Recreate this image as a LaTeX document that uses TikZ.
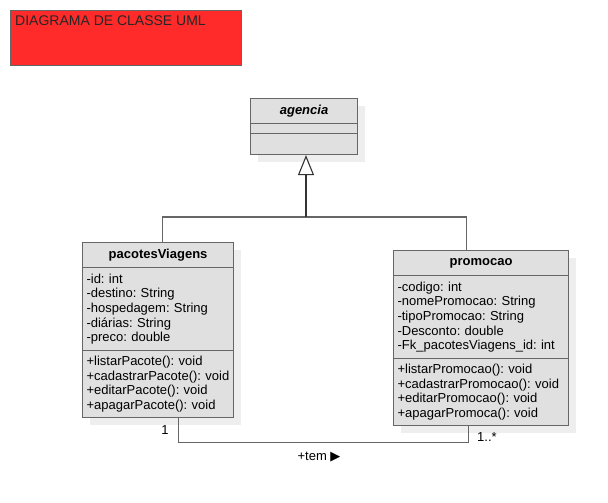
\documentclass[tikz,border=0pt]{standalone}
\usepackage{fontspec}
\setmainfont{Liberation Sans}
\newfontfamily\symfont{DejaVu Sans}
\usetikzlibrary{arrows.meta, shadows}

\definecolor{umlfill}{RGB}{224,224,224}
\definecolor{umlline}{RGB}{102,102,102}
\definecolor{umlshadow}{RGB}{238,238,238}
\definecolor{titlered}{RGB}{255,42,42}

\tikzset{
    part/.style={draw=umlline, line width=1.1pt, fill=umlfill, rectangle,
                 inner sep=0pt, anchor=north west,
                 drop shadow={shadow xshift=7pt, shadow yshift=-7pt,
                              fill=umlshadow, opacity=1}},
    members/.style={part, align=left, inner xsep=4pt,
                    font=\fontsize{13}{14.7}\selectfont\frenchspacing},
    classname/.style={part, font=\fontsize{13}{15}\selectfont\bfseries},
    edge/.style={draw=umlline, line width=1.1pt},
    mult/.style={font=\fontsize{13}{15}\selectfont}
}

\begin{document}
\begin{tikzpicture}[x=1pt, y=-1pt]
\useasboundingbox (0,0) rectangle (608,503);

% title
\node[draw=umlline, line width=1.1pt, fill=titlered, anchor=north west,
      minimum width=231pt, minimum height=55pt, inner sep=0pt] (title) at (10,10) {};
\node[anchor=base west, inner sep=0pt, font=\fontsize{14}{17}\selectfont,
      text=black!85] (titletext) at (15,26) {DIAGRAMA DE CLASSE UML};

% agencia
\node[classname, minimum width=107pt, minimum height=25pt,
      font=\fontsize{13}{15}\selectfont\bfseries\itshape] (agHead) at (250,98) {agencia};
\node[part, minimum width=107pt, minimum height=10pt] (agAttr) at (250,123) {};
\node[part, minimum width=107pt, minimum height=21pt] (agOps) at (250,133) {};

% pacotesViagens
\node[classname, minimum width=151pt, minimum height=25pt] (pvHead) at (82,242) {pacotesViagens};
\node[members, text width=143pt, minimum height=83pt] (pvAttr) at (82,267)
    {-id: int\\-destino: String\\-hospedagem: String\\-diárias: String\\-preco: double};
\node[members, text width=143pt, minimum height=67pt] (pvOps) at (82,350)
    {+listarPacote(): void\\+cadastrarPacote():~void\\+editarPacote(): void\\+apagarPacote(): void};

% promocao
\node[classname, minimum width=175pt, minimum height=25pt] (prHead) at (393,250) {promocao};
\node[members, text width=167pt, minimum height=83pt] (prAttr) at (393,275)
    {-codigo: int\\-nomePromocao: String\\-tipoPromocao: String\\-Desconto: double\\-Fk\_pacotesViagens\_id: int};
\node[members, text width=167pt, minimum height=67pt] (prOps) at (393,358)
    {+listarPromocao(): void\\+cadastrarPromocao(): void\\+editarPromocao(): void\\+apagarPromoca(): void};

% heranca
\coordinate (join) at (306,217);
\draw[edge] ([xshift=4.5pt]pvHead.north) |- (join);
\draw[edge] ([xshift=-14.5pt]prHead.north) |- (join);
\draw[edge, draw=black!80, line width=1.4pt,
      -{Triangle[length=20pt, width=16pt, fill=white, line width=1.1pt]}]
    (join) -- (join |- agOps.south);

% associacao
\draw[edge] ([xshift=20.5pt]pvOps.south) -- ++(0,24) -| ([xshift=-12.5pt]prOps.south);
\node[mult] (one) at (165,430) {1};
\node[mult] (many) at (487,437) {1..*};
\node[mult] (tem) at (319,457) {+tem {\symfont\fontsize{13}{15}\selectfont ▶}};
\end{tikzpicture}
\end{document}
